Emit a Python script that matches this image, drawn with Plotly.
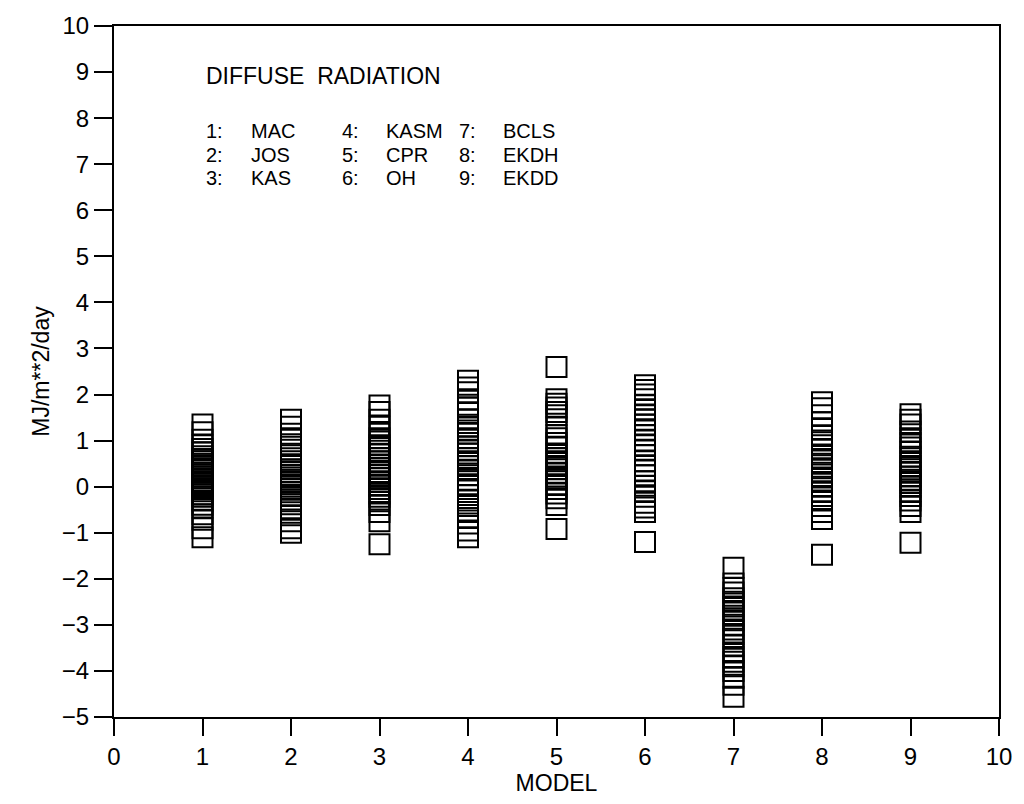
import plotly.graph_objects as go

models = [1, 2, 3, 4, 5, 6, 7, 8, 9]
names = ["MAC", "JOS", "KAS", "KASM", "CPR", "OH", "BCLS", "EKDH", "EKDD"]

m1 = [1.35, 1.18, 1.02, 0.9, 0.82, 0.74, 0.66, 0.6, 0.55, 0.5, 0.44, 0.4, 0.36, 0.3, 0.27,
      0.22, 0.18, 0.12, 0.08, 0.03, 0.0, -0.05, -0.1, -0.17, -0.22, -0.3, -0.39, -0.45,
      -0.6, -0.72, -0.9, -1.1]
m2 = [1.45, 1.3, 1.15, 1.05, 0.92, 0.8, 0.68, 0.55, 0.45, 0.38, 0.32, 0.26, 0.2, 0.15, 0.1,
      0.05, 0.0, -0.05, -0.12, -0.2, -0.28, -0.38, -0.5, -0.62, -0.75, -0.9, -1.0]
m3 = [1.76, 1.62, 1.45, 1.3, 1.15, 1.05, 0.98, 0.9, 0.84, 0.78, 0.7, 0.62, 0.55, 0.48, 0.4,
      0.32, 0.25, 0.18, 0.1, 0.02, -0.05, -0.15, -0.22, -0.28, -0.4, -0.55, -0.75, -1.25]
m4 = [2.3, 2.15, 2.05, 1.9, 1.78, 1.72, 1.6, 1.45, 1.3, 1.22, 1.15, 1.05, 0.95, 0.88, 0.8,
      0.72, 0.62, 0.55, 0.45, 0.35, 0.25, 0.15, 0.05, -0.05, -0.18, -0.3, -0.42, -0.55,
      -0.68, -0.8, -0.95, -1.1]
m5 = [2.6, 1.9, 1.8, 1.72, 1.62, 1.55, 1.3, 1.12, 1.05, 0.95, 0.85, 0.72, 0.62, 0.55, 0.45,
      0.38, 0.3, 0.22, 0.15, 0.05, -0.05, -0.15, -0.25, -0.4, -0.92]
m6 = [2.2, 2.1, 2.0, 1.9, 1.78, 1.68, 1.55, 1.45, 1.35, 1.22, 1.12, 1.0, 0.9, 0.8, 0.68,
      0.55, 0.45, 0.35, 0.25, 0.12, 0.02, -0.1, -0.22, -0.35, -0.45, -0.55, -1.2]
m7 = [-1.76, -2.1, -2.2, -2.3, -2.42, -2.5, -2.6, -2.7, -2.8, -2.9, -3.0, -3.1, -3.2, -3.3,
      -3.45, -3.6, -3.7, -3.8, -3.9, -4.0, -4.15, -4.3, -4.56]
m8 = [1.83, 1.7, 1.55, 1.4, 1.25, 1.1, 1.0, 0.9, 0.8, 0.7, 0.6, 0.5, 0.4, 0.3, 0.2, 0.1, 0.0,
      -0.1, -0.2, -0.3, -0.42, -0.55, -0.7, -1.48]
m9 = [1.57, 1.45, 1.35, 1.2, 1.05, 0.95, 0.85, 0.75, 0.65, 0.55, 0.45, 0.38, 0.3, 0.22, 0.15,
      0.08, 0.0, -0.1, -0.2, -0.3, -0.42, -0.55, -1.22]

series = [m1, m2, m3, m4, m5, m6, m7, m8, m9]

x_ticks = list(range(0, 11))
y_ticks = list(range(-5, 11))

FONT = "Liberation Sans"
FS = 23
LFS = 20

fig = go.Figure()
for m, vals in zip(models, series):
    fig.add_trace(go.Scatter(
        x=[m] * len(vals), y=vals, mode="markers",
        marker=dict(symbol="square-open", size=20, color="black",
                    line=dict(width=2, color="black")),
        showlegend=False, hoverinfo="y",
    ))

annotations = [dict(x=1.02, y=8.92, xref="x", yref="y", text="DIFFUSE  RADIATION",
                    showarrow=False, xanchor="left", yanchor="middle",
                    font=dict(family=FONT, size=FS, color="black"))]
col_x = [1.02, 2.55, 3.87]
name_dx = 0.5
row_y = [7.71, 7.21, 6.71]
for i, (m, n) in enumerate(zip(models, names)):
    c, r = divmod(i, 3)
    annotations.append(dict(x=col_x[c], y=row_y[r], xref="x", yref="y", text=f"{m}:",
                            showarrow=False, xanchor="left", yanchor="middle",
                            font=dict(family=FONT, size=LFS, color="black")))
    annotations.append(dict(x=col_x[c] + name_dx, y=row_y[r], xref="x", yref="y", text=n,
                            showarrow=False, xanchor="left", yanchor="middle",
                            font=dict(family=FONT, size=LFS, color="black")))

fig.update_layout(
    width=1024, height=804,
    margin=dict(l=114, r=20, t=17, b=87),
    plot_bgcolor="white", paper_bgcolor="white",
    font=dict(family=FONT, size=FS, color="black"),
    annotations=annotations,
    xaxis=dict(range=[0, 10], tickvals=x_ticks, ticks="outside", ticklen=17, tickwidth=2,
               tickcolor="black", showline=True, linewidth=2, linecolor="black", mirror=True,
               showgrid=False, zeroline=False,
               title=dict(text="MODEL", font=dict(size=FS), standoff=0),
               tickfont=dict(size=FS + 1)),
    yaxis=dict(range=[-5, 10], tickvals=y_ticks, ticks="outside", ticklen=18, tickwidth=2,
               tickcolor="black", showline=True, linewidth=2, linecolor="black", mirror=True,
               showgrid=False, zeroline=False,
               title=dict(text="MJ/m**2/day", font=dict(size=FS), standoff=6),
               tickfont=dict(size=FS + 1)),
)

fig.write_html("out.html")
